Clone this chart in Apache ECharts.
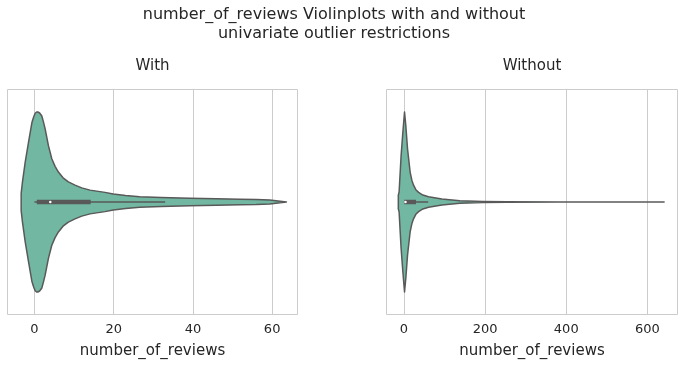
<!DOCTYPE html>
<html>
<head>
<meta charset="utf-8">
<script src="https://cdn.jsdelivr.net/npm/echarts@6/dist/echarts.min.js"></script>
<style>
html,body{margin:0;padding:0;background:#fff;}
#chart{width:684px;height:365px;}
</style>
</head>
<body>
<div id="chart"></div>
<script>
// ---- data ----
const panelTitles = ['With', 'Without'];
const axisName = 'number_of_reviews';
const suptitle = 'number_of_reviews Violinplots with and without\nunivariate outlier restrictions';

// "With" violin: positions along number_of_reviews and relative density (peak = 1)
const withX = [-3.35, -3.02, -2.34, -1.51, -0.65, -0.2, 0.18, 0.55, 0.86, 1.31, 1.86, 2.27, 2.70, 3.53, 4.38, 5.21, 6.05, 7.22, 8.56, 10.24, 11.94, 14.03, 17.8, 19.9, 23.0, 26.6, 32.0, 39.2, 46.0, 51.8, 56.0, 59.4, 63.6];
const withDensity = [0.096, 0.223, 0.44, 0.66, 0.88, 0.945, 0.986, 1.0, 1.0, 0.989, 0.956, 0.89, 0.813, 0.626, 0.48, 0.396, 0.333, 0.269, 0.223, 0.187, 0.157, 0.132, 0.107, 0.088, 0.071, 0.059, 0.049, 0.041, 0.035, 0.031, 0.028, 0.022, 0.0];
// box: [whisker low, Q1, median, Q3, whisker high]
const withBox = [0, 0.6, 4, 14.2, 33];
const withTicks = [0, 20, 40, 60];
const withRange = [-6.8, 66.4];

// "Without" violin
const withoutX = [-13.6, -11.6, -6.7, -2.5, 1.7, 4.9, 9.1, 15.5, 19.7, 23.9, 29.6, 36.3, 46.9, 60.9, 93.7, 138, 195, 254, 385, 641];
const withoutDensity = [0.077, 0.113, 0.516, 0.769, 1.0, 0.846, 0.59, 0.333, 0.242, 0.187, 0.137, 0.107, 0.077, 0.058, 0.033, 0.014, 0.0055, 0.0016, 0.0003, 0];
const withoutBox = [0, 1, 4, 30, 60];
const withoutTicks = [0, 200, 400, 600];
const withoutRange = [-42.7, 674];

// ---- styles ----
const FONT = 'DejaVu Sans';
const TEXT = '#262626';
const FILL = '#71b7a1';
const EDGE = '#595959';
const GRIDC = '#cccccc';
const HALF = 0.4;

const chart = echarts.init(document.getElementById('chart'), null, {renderer: 'canvas'});

function violinSeries(idx, xs, dens) {
  return {
    type: 'custom', xAxisIndex: idx, yAxisIndex: idx, z: 3, clip: false, silent: true,
    data: [[0, 0]],
    renderItem: function (params, api) {
      const pts = [];
      for (let i = 0; i < xs.length; i++) pts.push(api.coord([xs[i], dens[i] * HALF]));
      for (let i = xs.length - 1; i >= 0; i--) pts.push(api.coord([xs[i], -dens[i] * HALF]));
      return {type: 'polygon', shape: {points: pts},
        style: {fill: FILL, stroke: EDGE, lineWidth: 1.5, lineJoin: 'round'}};
    }
  };
}
function boxSeries(idx, b) {
  return {
    type: 'custom', xAxisIndex: idx, yAxisIndex: idx, z: 4, clip: false, silent: true,
    data: [[0, 0]],
    renderItem: function (params, api) {
      const w0 = api.coord([b[0], 0]), q1 = api.coord([b[1], 0]), md = api.coord([b[2], 0]),
            q3 = api.coord([b[3], 0]), w1 = api.coord([b[4], 0]);
      return {type: 'group', children: [
        {type: 'line', shape: {x1: w0[0], y1: w0[1], x2: w1[0], y2: w1[1]}, style: {stroke: EDGE, lineWidth: 1.5}},
        {type: 'line', shape: {x1: q1[0], y1: q1[1], x2: q3[0], y2: q3[1]}, style: {stroke: EDGE, lineWidth: 4.5}},
        {type: 'circle', shape: {cx: md[0], cy: md[1], r: 1.3}, style: {fill: '#ffffff'}}
      ]};
    }
  };
}
function gridLineSeries(idx, ticks) {
  return {
    type: 'line', xAxisIndex: idx, yAxisIndex: idx, data: [], z: 1, silent: true,
    markLine: {silent: true, z: 1, symbol: ['none', 'none'], animation: false,
      label: {show: false}, lineStyle: {color: GRIDC, width: 1, type: 'solid'},
      data: ticks.map(v => ({xAxis: v}))}
  };
}
function xAxisCfg(idx, range, ticks) {
  return {
    type: 'value', gridIndex: idx, min: range[0], max: range[1],
    axisLine: {show: false}, axisTick: {show: false}, splitLine: {show: false},
    axisLabel: {customValues: ticks, fontFamily: FONT, fontSize: 13, color: TEXT, margin: 9},
    name: axisName, nameLocation: 'middle', nameGap: 29,
    nameTextStyle: {fontFamily: FONT, fontSize: 15, color: TEXT}
  };
}
function yAxisCfg(idx) {
  return {type: 'value', gridIndex: idx, min: -0.5, max: 0.5, show: false, splitLine: {show: false}};
}

const option = {
  backgroundColor: '#ffffff',
  animation: false,
  grid: [
    {left: 7.5, top: 89.5, width: 290, height: 225, show: true, borderColor: GRIDC, borderWidth: 1, backgroundColor: 'transparent'},
    {left: 386.5, top: 89.5, width: 291, height: 225, show: true, borderColor: GRIDC, borderWidth: 1, backgroundColor: 'transparent'}
  ],
  xAxis: [xAxisCfg(0, withRange, withTicks), xAxisCfg(1, withoutRange, withoutTicks)],
  yAxis: [yAxisCfg(0), yAxisCfg(1)],
  graphic: [
    {type: 'text', x: 334, y: 24.5, style: {text: suptitle, font: '16px "DejaVu Sans"', fill: TEXT, textAlign: 'center', textVerticalAlign: 'middle', lineHeight: 19}},
    {type: 'text', x: 152.5, y: 66, style: {text: panelTitles[0], font: '15px "DejaVu Sans"', fill: TEXT, textAlign: 'center', textVerticalAlign: 'middle'}},
    {type: 'text', x: 532, y: 66, style: {text: panelTitles[1], font: '15px "DejaVu Sans"', fill: TEXT, textAlign: 'center', textVerticalAlign: 'middle'}}
  ],
  series: [
    gridLineSeries(0, withTicks), gridLineSeries(1, withoutTicks),
    violinSeries(0, withX, withDensity), violinSeries(1, withoutX, withoutDensity),
    boxSeries(0, withBox), boxSeries(1, withoutBox)
  ]
};
chart.setOption(option);
</script>
</body>
</html>
